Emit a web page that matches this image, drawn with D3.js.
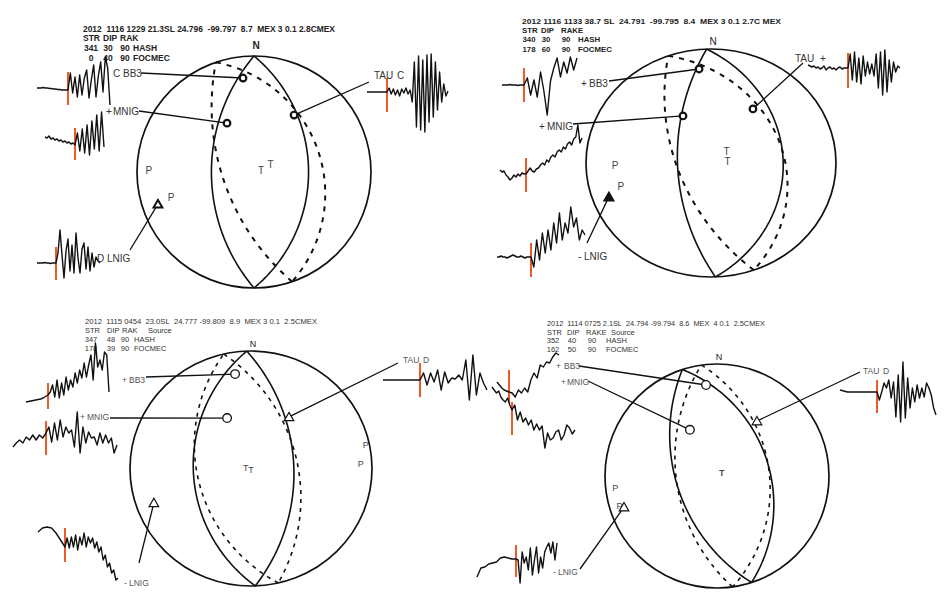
<!DOCTYPE html>
<html>
<head>
<meta charset="utf-8">
<script src="https://cdn.jsdelivr.net/npm/d3@7"></script>
<style>
  body { margin: 0; background: #fff; }
  svg { display: block; font-family: "Liberation Sans", Arial, sans-serif; }
</style>
</head>
<body>
<svg id="chart" width="945" height="611"></svg>
<script>
// ---- data ----
let headers = [
  "2012  1116 1229 21.3SL 24.796  -99.797  8.7  MEX 3 0.1 2.8CMEX",
  "2012 1116 1133 38.7 SL  24.791  -99.795  8.4  MEX 3 0.1 2.7C MEX",
  "2012  1115 0454  23.0SL  24.777 -99.809  8.9  MEX 3 0.1  2.5CMEX",
  "2012  1114 0725 2.1SL  24.794 -99.794  8.6  MEX  4 0.1  2.5CMEX"
];
let columnNames = [
  ["STR", "DIP", "RAK", ""],
  ["STR", "DIP", "RAKE", ""],
  ["STR", "DIP", "RAK", "Source"],
  ["STR", "DIP", "RAKE", "Source"]
];

// strike, dip, rake
let hashSDR = [[341, 30, 90], [340, 30, 90], [347, 48, 90], [352, 40, 90]];
let focmecSDR = [[0, 40, 90], [178, 60, 90], [178, 39, 90], [162, 50, 90]];

let stations = ["BB3", "MNIG", "TAU", "LNIG"];
// azimuth (deg) and take-off angle from vertical (deg), one row per event
let stationAz = [
  [353.4, 331.3, 34.9, 251.4],
  [353.4, 331.5, 35.3, 250.0],
  [350.7, 335.3, 35.6, 250.0],
  [353.1, 329.6, 36.0, 251.5]
];
let stationTakeoff = [
  [78.4, 51.3, 61.8, 81.8],
  [79.4, 50.3, 60.3, 82.0],
  [78.3, 50.6, 56.7, 81.0],
  [78.6, 51.1, 62.5, 82.4]
];
let polarity = [
  ["C", "+", "C", "D"],
  ["+", "+", "+", "-"],
  ["+", "+", "D", "-"],
  ["+", "+", "D", "-"]
];

// waveform samples (amplitude, up positive), one per event; onset = index of the P pick
let bb3Waves = [
  [0,0,0,0.5,0,0,-0.5,-0.5,-1,-1,-1.5,-1.5,-2,-2,-2, -2,15,-5,11,-9,13,-7,10,18,-10,8,23,-9,12,26,-4,31,20,-17],
  [0,0,0,0,0.5,0,0,0,-0.5,0,0, 0,7,-10,5,-12,13,-6,-30,4,17,27,8,23,12,28,15,27],
  [-4,-3.5,-3,-2.5,-2,-1.5,-1,0,1.5, 3,6,13,1,18,0,15,3,21,8,18,11,25,15,28,20,35,21,33,43,18,55,31,38,28,46,43,6],
  [8,5,2,0,-1, -2,-3,-7,0,-3,2,-2,10,17,12,25,23,28,27,33,37,35]
];
let bb3Onsets = [15, 11, 9, 5];

let mnigWaves = [
  [4,3,5,2,3,1,2,0,1,-1,0,-2,-1,-3,-2, -4,8,-10,12,-12,16,-14,20,-8,26,-10,29,-6],
  [4,2,3,-1,-3,-6,-4,-1,-3,0,-2,1,0, 0,3,6,3,2,5,6,9,11,9,14,12,17,19,17,22,24,22,27,25,30,32,29,35,37,49,31,36],
  [-9,-5,-2,-5,1,-2,3,-2,3,0, 5,11,-4,15,-2,18,1,11,5,8,-9,26,-15,11,-5,6,0,1,-7,5,-5,3,-5,0,-15,-7],
  [23,20,17,19,13,10,8,12,5, 0,5,-10,-2,-12,-8,-15,-10,-20,-14,-20,-16,-38,-23,-30,-28,-22,-20,-30,-25,-15,-18,-24,-20]
];
let mnigOnsets = [15, 13, 10, 9];

let tauWaves = [
  [0,0,0,0,0,0,0,0,0,0, 0,4,-2,3,-3,2,-4,3,-1,4,-2,2,-10,30,-35,36,-38,32,-40,37,-30,38,-25,30,-18,20,-10,8,-4,1],
  [3,2,1,2,0,1,-1,0,2,-2,0,1,-1,0,-2,0,1,-1,0,0, 0,14,-12,16,-14,10,-16,12,-8,6,-6,4,-8,14,-20,16,-27,18,-24,8,-14,6,-4,2,0],
  [0,0,0,0,0,0,0,0, 0,7,-5,7,-2,10,-10,8,-3,2,1,5,0,20,-20,25,-15,7,-3,-10],
  [2,1,0,0,0,0,0,0,0,0, 0,-8,0,9,4,12,-6,10,-25,17,-30,30,-26,14,-16,4,-10,7,-6,4,-5,9,4,-3,-16,-23]
];
let tauOnsets = [10, 20, 8, 10];

let lnigWaves = [
  [0,0,0,0,0.5,0,0,-0.5,0,0, 0,10,33,8,-15,12,24,-8,18,-10,30,5,-10,14,20,-6,16,-8,10,-4,6,2,0],
  [0,0,1,0,0,-1,0,1,2,1,0,0,1,0,-1,0,0, 0,-10,17,-3,24,4,27,7,34,14,44,17,34,24,50,30,39,17,27,22],
  [13,17,18,17,12,5, -2,7,-3,8,-2,10,-5,8,0,12,-2,8,2,7,-3,3,-7,-2,-15,-10,-22,-18,-28,-25,-35,-33],
  [-19,-10,-9,-6,-5,-4,0,1,0,-1, -1,-2,-25,6,-5,1,-12,10,-17,-2,11,-15,1,-10,6,11,15,5,16,-2,15]
];
let lnigOnsets = [10, 17, 6, 10];

let waves = [bb3Waves, mnigWaves, tauWaves, lnigWaves];
let onsets = [bb3Onsets, mnigOnsets, tauOnsets, lnigOnsets];

// ---- layout ----
let panels = [
  { cx: 254, cy: 172, rx: 117, ry: 116, nY: 49, bold: true, fs: 8.5, colFs: 8.5,
    textX: 83, rows: [32, 41, 51, 61], headEnd: 335,
    headCols: [83, 103, 120, 133], valCols: [83, 103, 120, 133], valAnchor: [91, 108, 125],
    nudgeHash: [2, -3], nudgeFoc: [2, -2] },
  { cx: 711, cy: 163, rx: 125, ry: 114, nY: 45, bold: true, fs: 8, colFs: 7.8,
    textX: 522, rows: [24, 33, 42, 52], headEnd: 781,
    headCols: [522, 541, 561, 578], valCols: [522, 541, 561, 578], valAnchor: [529, 546, 566],
    nudgeHash: [0, -6], nudgeFoc: [0, -1] },
  { cx: 251, cy: 468.5, rx: 121, ry: 117.5, nY: 347, bold: false, fs: 8, colFs: 7.5,
    textX: 85, rows: [324, 333, 342, 351], headEnd: 317,
    headCols: [85, 107, 122, 148], valCols: [85, 107, 121, 134], valAnchor: [91, 111, 125],
    nudgeHash: [3, 1], nudgeFoc: [1, -1] },
  { cx: 717, cy: 476, rx: 112, ry: 112, nY: 360, bold: false, fs: 8, colFs: 7.5,
    textX: 547, rows: [326, 335, 343, 352], headEnd: 765,
    headCols: [547, 567, 586, 611], valCols: [547, 568, 588, 606], valAnchor: [553, 572, 592],
    nudgeHash: [0, -2], nudgeFoc: [0, -2] }
];

// [polarity x, name x, text baseline, leader start x, leader start y]
let labelLayout = [
  [[113, 123, 77, 141, 73], [106, 113, 115, 139, 111], [397, 374, 79, 369, 82], [97, 107, 262, 130, 250]],
  [[581, 589, 87, 609, 81], [539, 547, 130, 573, 124], [820, 795, 62, 803, 63], [578, 584, 260, 587, 243]],
  [[122, 129, 383, 146, 377], [80, 87, 420, 110, 418], [423, 403, 363, 398, 363], [124, 129, 586, 139, 563]],
  [[556, 564, 369, 579, 366], [561, 567, 385, 588, 381], [883, 863, 374, 860, 372], [553, 558, 575, 580, 569]]
];

// [x start, x at pick, x end, baseline, pick top, pick bottom]
let waveLayout = [
  [[37, 68, 110, 88, 72, 105], [45, 75, 104, 141, 128, 160], [367, 387, 448, 92, 78, 112], [37, 56, 100, 263, 247, 280]],
  [[502, 524, 577, 85, 68, 102], [500, 526, 582, 174, 158, 192], [808, 848, 900, 68, 53, 88], [497, 531, 585, 257, 243, 277]],
  [[26, 48, 109, 398, 383, 409], [13, 46, 117, 438, 421, 455], [383, 420, 487, 380, 363, 397], [38, 65, 118, 545, 528, 562]],
  [[497, 509, 559, 390, 370, 403], [492, 512, 575, 410, 402, 435], [840, 877, 936, 392, 380, 413], [477, 516, 557, 558, 545, 577]]
];

// ---- lower hemisphere stereographic net ----
let rad = Math.PI / 180;
let unit = (v) => { let l = Math.hypot(v[0], v[1], v[2]); return v.map((c) => c / l); };
let cross = (a, b) => [a[1] * b[2] - a[2] * b[1], a[2] * b[0] - a[0] * b[2], a[0] * b[1] - a[1] * b[0]];
let keepSpaces = (s) => s.replace(/ /g, "\u00a0");

// vector in (north, east, down) -> unit net coords
function stereo(v) {
  v = unit(v);
  if (v[2] < -1e-9) v = v.map((c) => -c);
  let plunge = Math.asin(Math.max(-1, Math.min(1, v[2])));
  let az = Math.atan2(v[1], v[0]);
  let r = Math.tan((Math.PI / 2 - plunge) / 2);
  return [r * Math.sin(az), r * Math.cos(az)];
}

function mechanism(sdr) {
  let f = sdr[0] * rad, d = sdr[1] * rad, l = sdr[2] * rad;
  let n = [-Math.sin(d) * Math.sin(f), Math.sin(d) * Math.cos(f), -Math.cos(d)];
  let s = [Math.cos(l) * Math.cos(f) + Math.cos(d) * Math.sin(l) * Math.sin(f),
           Math.cos(l) * Math.sin(f) - Math.cos(d) * Math.sin(l) * Math.cos(f),
           -Math.sin(l) * Math.sin(d)];
  return { n: n, s: s,
           T: unit(n.map((c, i) => c + s[i])),
           P: unit(n.map((c, i) => c - s[i])) };
}

// trace of the plane whose pole is u
function greatCircle(u) {
  let e1 = unit([u[1], -u[0], 0]);
  let e2 = unit(cross(u, e1));
  if (e2[2] < 0) e2 = e2.map((c) => -c);
  return d3.range(0, 180.5, 2).map((t) =>
    stereo(e1.map((c, i) => Math.cos(t * rad) * c + Math.sin(t * rad) * e2[i])));
}

let svg = d3.select("#chart");

panels.forEach((p, i) => {
  let g = svg.append("g");
  let x = d3.scaleLinear().domain([-1, 1]).range([p.cx - p.rx, p.cx + p.rx]);
  let y = d3.scaleLinear().domain([-1, 1]).range([p.cy + p.ry, p.cy - p.ry]);
  let line = d3.line().x((d) => x(d[0])).y((d) => y(d[1]));
  let txtColor = p.bold ? "#222" : "#333";
  let lblColor = p.bold ? "#333" : "#555";
  let lblSize = p.bold ? 10 : 8.5;

  // header block
  let head = g.append("g")
      .attr("font-weight", p.bold ? "bold" : "normal")
      .attr("fill", txtColor);
  head.append("text")
      .attr("x", p.textX).attr("y", p.rows[0])
      .attr("font-size", p.fs)
      .attr("textLength", p.headEnd - p.textX)
      .attr("lengthAdjust", "spacingAndGlyphs")
      .text(keepSpaces(headers[i]));
  columnNames[i].forEach((c, k) => {
    head.append("text").attr("x", p.headCols[k]).attr("y", p.rows[1])
        .attr("font-size", p.colFs).text(c);
  });
  [[hashSDR[i], "HASH"], [focmecSDR[i], "FOCMEC"]].forEach((row, r) => {
    row[0].forEach((v, k) => {
      head.append("text").attr("x", p.valAnchor[k]).attr("y", p.rows[2 + r])
          .attr("text-anchor", "middle")
          .attr("font-size", p.colFs).text(v);
    });
    head.append("text").attr("x", p.valCols[3]).attr("y", p.rows[2 + r])
        .attr("font-size", p.colFs).text(row[1]);
  });

  // waveforms with P picks
  stations.forEach((st, j) => {
    let w = waves[j][i], on = onsets[j][i], L = waveLayout[i][j];
    let xs = d3.scaleLinear().domain([0, on, w.length - 1]).range([L[0], L[1], L[2]]);
    let ys = d3.scaleLinear().domain([0, 10]).range([L[3], L[3] - 10]);
    g.append("line")
        .attr("x1", xs(on)).attr("x2", xs(on))
        .attr("y1", L[4]).attr("y2", L[5])
        .attr("stroke", "#ef5a2a").attr("stroke-width", 2);
    g.append("path")
        .attr("d", d3.line().x((d, k) => xs(k)).y((d) => ys(d))(w))
        .attr("fill", "none").attr("stroke", "#111")
        .attr("stroke-width", 1.4).attr("stroke-linejoin", "round");
  });

  // primitive circle
  g.append("ellipse")
      .attr("cx", x(0)).attr("cy", y(0))
      .attr("rx", x(1) - x(0)).attr("ry", y(-1) - y(0))
      .attr("fill", "none").attr("stroke", "#111").attr("stroke-width", 1.7);

  g.append("text")
      .attr("x", x(0) + 2).attr("y", p.nY)
      .attr("text-anchor", "middle")
      .attr("font-size", p.bold ? 10 : 9)
      .attr("font-weight", i === 0 ? "bold" : "normal")
      .attr("fill", "#222")
      .text("N");

  // nodal planes: HASH dashed, FOCMEC solid
  let hash = mechanism(hashSDR[i]), foc = mechanism(focmecSDR[i]);
  [hash.n, hash.s].forEach((u) => {
    g.append("path").attr("d", line(greatCircle(u)))
        .attr("fill", "none").attr("stroke", "#111")
        .attr("stroke-width", p.bold ? 2 : 1.6)
        .attr("stroke-dasharray", p.bold ? "5,6" : "4,5");
  });
  [foc.n, foc.s].forEach((u) => {
    g.append("path").attr("d", line(greatCircle(u)))
        .attr("fill", "none").attr("stroke", "#111").attr("stroke-width", 1.6);
  });

  // P and T axes of both solutions
  [[hash, p.nudgeHash], [foc, p.nudgeFoc]].forEach((mm) => {
    let m = mm[0], off = mm[1];
    [["P", m.P], ["T", m.T]].forEach((a) => {
      let q = stereo(a[1]);
      g.append("text")
          .attr("x", x(q[0]) + off[0]).attr("y", y(q[1]) + off[1])
          .attr("dy", "0.35em").attr("text-anchor", "middle")
          .attr("font-size", p.bold ? 10 : 9).attr("fill", "#444")
          .text(a[0]);
    });
  });

  // stations: leader, marker, label
  stations.forEach((st, j) => {
    let az = stationAz[i][j] * rad, th = stationTakeoff[i][j] * rad;
    let r = Math.tan(th / 2);
    let mx = x(r * Math.sin(az)), my = y(r * Math.cos(az));
    let L = labelLayout[i][j];
    let pol = polarity[i][j];
    let down = pol === "D" || pol === "-";

    g.append("line")
        .attr("x1", L[3]).attr("y1", L[4]).attr("x2", mx).attr("y2", my)
        .attr("stroke", "#111").attr("stroke-width", 1.3);

    if (down) {
      g.append("path")
          .attr("transform", `translate(${mx},${my + 1})`)
          .attr("d", d3.symbol(d3.symbolTriangle, p.bold ? 34 : 40)())
          .attr("fill", i === 1 ? "#111" : "#fff")
          .attr("stroke", "#111").attr("stroke-width", p.bold ? 2 : 1.2);
    } else {
      g.append("circle")
          .attr("cx", mx).attr("cy", my).attr("r", p.bold ? 3.3 : 4.3)
          .attr("fill", "#fff").attr("stroke", "#111")
          .attr("stroke-width", p.bold ? 2.2 : 1.3);
    }

    g.append("text").attr("x", L[0]).attr("y", L[2])
        .attr("font-size", lblSize).attr("fill", lblColor).text(pol);
    g.append("text").attr("x", L[1]).attr("y", L[2])
        .attr("font-size", lblSize).attr("fill", lblColor).text(st);
  });
});
</script>
</body>
</html>
